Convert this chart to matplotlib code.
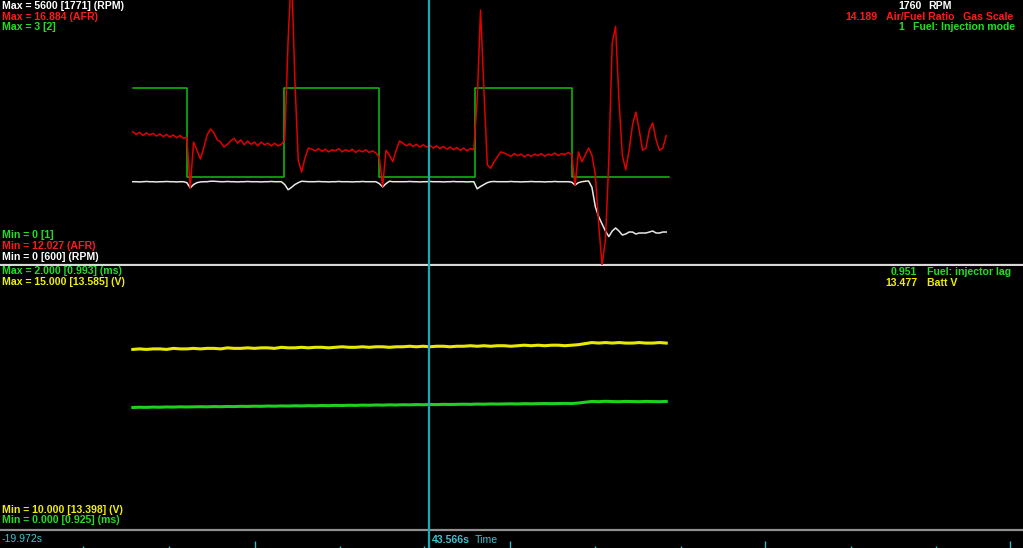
import numpy as np
import matplotlib.pyplot as plt

plt.rcParams['font.family'] = ['Liberation Sans', 'DejaVu Sans']

# top pane, sampled every 0.5 s
afr = [14.47, 14.42, 14.46, 14.40, 14.45, 14.41, 14.44, 14.39, 14.43, 14.38, 14.42, 14.37, 14.41, 14.36, 14.40, 14.35,
       14.37, 13.44, 14.28, 14.13, 13.97, 14.17, 14.41, 14.52, 14.45, 14.32, 14.28, 14.19, 14.24, 14.30, 14.35, 14.26,
       14.32, 14.23, 14.30, 14.24, 14.28, 14.21, 14.28, 14.23, 14.26, 14.21, 14.26, 14.21, 14.24,
       14.32, 16.15, 17.43, 15.42, 13.95, 13.73, 13.99, 14.17,
       14.15, 14.12, 14.16, 14.11, 14.15, 14.10, 14.14, 14.12, 14.16, 14.10, 14.14, 14.11, 14.15, 14.09, 14.13, 14.10,
       14.14, 14.09, 14.12, 14.08,
       14.00, 13.47, 14.13, 14.04, 13.92, 14.13, 14.30, 14.26,
       14.21, 14.25, 14.20, 14.24, 14.19, 14.23, 14.19, 14.22, 14.17, 14.21, 14.16, 14.20, 14.15, 14.19, 14.14, 14.18,
       14.13, 14.17, 14.12, 14.16, 14.14,
       15.05, 16.70, 15.23, 13.86, 13.80, 13.92, 14.01, 14.10, 14.08,
       14.05, 14.02, 14.07, 14.03, 14.06, 14.01, 14.05, 14.02, 14.06, 14.03, 14.07, 14.02, 14.06, 14.04, 14.08, 14.03,
       14.07, 14.05, 14.09,
       14.05, 13.49, 14.10, 13.92, 14.04, 14.17, 14.04, 13.68, 12.76, 12.03, 12.49, 13.95, 16.1, 16.4, 15.05, 14.04,
       13.77, 14.13, 14.59, 14.83, 14.50, 14.13, 14.17, 14.50, 14.63, 14.32, 14.13, 14.17, 14.40]
rpm = [1760, 1760, 1755, 1760, 1765, 1760, 1760, 1755, 1760, 1760, 1765, 1760, 1760, 1755, 1760, 1760,
       1740, 1630, 1700, 1740, 1755, 1760, 1760, 1770, 1770, 1765, 1760,
       1760, 1765, 1760, 1760, 1755, 1760, 1760, 1765, 1760, 1760, 1760, 1755, 1760, 1760, 1765, 1760, 1760, 1760,
       1700, 1590, 1640, 1700, 1740, 1770, 1765, 1760,
       1760, 1760, 1765, 1760, 1760, 1755, 1760, 1760, 1765, 1760, 1760, 1760, 1755, 1760, 1760, 1765, 1760, 1760,
       1760, 1760,
       1720, 1650, 1720, 1770, 1760, 1760, 1760, 1760,
       1760, 1765, 1760, 1760, 1755, 1760, 1760, 1765, 1760, 1760, 1760, 1755, 1760, 1760, 1765, 1760, 1760, 1760,
       1755, 1760, 1760,
       1610, 1660, 1700, 1740, 1760, 1765, 1760, 1760, 1760,
       1760, 1765, 1760, 1760, 1755, 1760, 1760, 1765, 1760, 1760, 1760, 1755, 1760, 1760, 1765, 1760, 1760, 1760, 1760,
       1750, 1690, 1740, 1760, 1770, 1775, 1640, 1230, 1020, 866, 718, 600, 718, 782, 718, 634,
       655, 697, 697, 655, 676, 676, 676, 697, 718, 676, 676, 697, 697]
mode_t = [-0.3, 7.7, 22.15, 36.15, 50.35, 64.7, 79.1]
mode_v = [2, 1, 2, 1, 2, 1, 1]

# lower pane, sampled every 1 s
batt_v = [13.42, 13.43, 13.42, 13.43, 13.43, 13.42, 13.44, 13.43, 13.43, 13.44,
          13.43, 13.44, 13.44, 13.43, 13.45, 13.44, 13.44, 13.45, 13.44, 13.45,
          13.45, 13.44, 13.46, 13.45, 13.45, 13.46, 13.45, 13.46, 13.46, 13.45,
          13.46, 13.47, 13.46, 13.46, 13.47, 13.46, 13.47, 13.47, 13.46, 13.47,
          13.47, 13.48, 13.47, 13.48, 13.47, 13.48, 13.48, 13.47, 13.48, 13.48,
          13.49, 13.48, 13.49, 13.48, 13.49, 13.49, 13.48, 13.49, 13.50, 13.49,
          13.50, 13.49, 13.50, 13.50, 13.49, 13.50, 13.51, 13.53, 13.55, 13.54,
          13.55, 13.54, 13.55, 13.54, 13.54, 13.55, 13.54, 13.54, 13.55, 13.54]
inj_lag = [0.928, 0.930, 0.929, 0.931, 0.930, 0.932, 0.931, 0.933, 0.932, 0.933,
           0.934, 0.933, 0.935, 0.934, 0.936, 0.935, 0.937, 0.936, 0.938, 0.937,
           0.939, 0.938, 0.940, 0.939, 0.941, 0.940, 0.942, 0.941, 0.943, 0.942,
           0.944, 0.943, 0.945, 0.944, 0.946, 0.945, 0.947, 0.946, 0.948, 0.947,
           0.949, 0.948, 0.950, 0.949, 0.951, 0.950, 0.952, 0.951, 0.952, 0.953,
           0.952, 0.954, 0.953, 0.955, 0.954, 0.955, 0.956, 0.955, 0.957, 0.956,
           0.957, 0.958, 0.957, 0.958, 0.959, 0.958, 0.962, 0.968, 0.974, 0.972,
           0.975, 0.973, 0.972, 0.974, 0.973, 0.972, 0.974, 0.973, 0.972, 0.974]

t_start, t_end = -19.972, 131.54
cursor_t = 43.566
tick_px = [83, 169, 255, 340, 424, 510, 595, 681, 765, 851, 936, 1010]
tall_px = [255, 510, 765, 1010]

t_top = -0.3 + np.arange(len(afr)) * 0.5
t_low = -0.3 + np.arange(len(batt_v)) * 1.0

W, H = 1023, 548
fig = plt.figure(figsize=(W / 100, H / 100), dpi=100, facecolor='black')


def pane(top, bottom):
    a = fig.add_axes([0, 1 - bottom / H, 1, (bottom - top) / H])
    a.set_facecolor('black')
    a.set_xlim(t_start, t_end)
    a.set_xticks([])
    a.set_yticks([])
    for s in a.spines.values():
        s.set_visible(False)
    return a


def twin(a, lo, hi):
    b = a.twinx()
    b.set_ylim(lo, hi)
    b.set_yticks([])
    for s in b.spines.values():
        s.set_visible(False)
    return b


# top pane
ax1 = pane(0, 265)
ax1.set_ylim(0, 3)
ax1.plot(mode_t, mode_v, drawstyle='steps-post', color='#10c010', lw=1.1)
ax1.spines['bottom'].set_visible(True)
ax1.spines['bottom'].set_color('#d8d8d8')
ax1.spines['bottom'].set_linewidth(1.6)
ax_rpm = twin(ax1, 0, 5600)
ax_rpm.plot(t_top, rpm, color='#e8e8e8', lw=1.1)
ax_afr = twin(ax1, 12.027, 16.884)
ax_afr.plot(t_top, afr, color='#e00000', lw=1.1)

# lower pane
ax2 = pane(266, 530)
ax2.set_ylim(10, 15)
ax2.plot(t_low, batt_v, color='#e8e800', lw=2.2)
ax2.spines['bottom'].set_visible(True)
ax2.spines['bottom'].set_color('#909090')
ax2.spines['bottom'].set_linewidth(1.6)
ax_lag = twin(ax2, 0, 2)
ax_lag.plot(t_low, inj_lag, color='#20d020', lw=2.2)

# bottom time strip
ax3 = fig.add_axes([0, 0, 1, 16 / H])
ax3.set_facecolor('black')
ax3.set_xlim(0, W)
ax3.set_ylim(0, 16)
ax3.axis('off')
ax3.vlines(tick_px, 0, [7 if p in tall_px else 2.5 for p in tick_px], color='#3ab8c8', lw=1)

# cursor
ax4 = fig.add_axes([0, 0, 1, 1])
ax4.patch.set_alpha(0)
ax4.set_xlim(t_start, t_end)
ax4.axis('off')
ax4.axvline(cursor_t, color='#20a8b0', lw=1.6)


def label(x, y, s, c, ha='left', bold=True):
    fig.text(x / W, 1 - y / H, s, color=c, ha=ha, va='center', fontsize=7.6,
             fontweight='bold' if bold else 'normal')


WH, RD, GR, YL, CY = '#ffffff', '#ff1a1a', '#20e020', '#f0f000', '#40c0d0'

label(2, 6, 'Max = 5600 [1771] (RPM)', WH)
label(2, 17, 'Max = 16.884 (AFR)', RD)
label(2, 27, 'Max = 3 [2]', GR)
label(2, 235, 'Min = 0 [1]', GR)
label(2, 246, 'Min = 12.027 (AFR)', RD)
label(2, 257, 'Min = 0 [600] (RPM)', WH)
label(2, 271, 'Max = 2.000 [0.993] (ms)', GR)
label(2, 282, 'Max = 15.000 [13.585] (V)', YL)
label(2, 510, 'Min = 10.000 [13.398] (V)', YL)
label(2, 520, 'Min = 0.000 [0.925] (ms)', GR)

label(922, 6, '1760', WH, ha='right')
label(928, 6, 'RPM', WH)
label(878, 17, '14.189', RD, ha='right')
label(886, 17, 'Air/Fuel Ratio   Gas Scale', RD)
label(904, 27, '1', GR, ha='right')
label(913, 27, 'Fuel: Injection mode', GR)
label(917, 272, '0.951', GR, ha='right')
label(927, 272, 'Fuel: injector lag', GR)
label(917, 283, '13.477', YL, ha='right')
label(927, 283, 'Batt V', YL)

label(2, 539, '-19.972s', CY, bold=False)
label(432, 540, '43.566s', CY)
label(475, 540, 'Time', CY, bold=False)

fig.savefig('out.png', dpi=100, facecolor='black')
